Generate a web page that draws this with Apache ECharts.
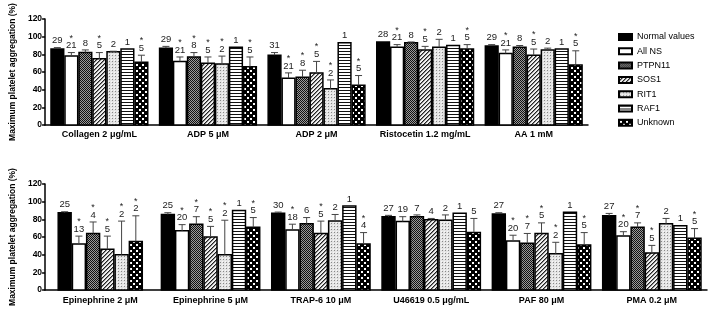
<!DOCTYPE html>
<html>
<head>
<meta charset="utf-8">
<script src="https://cdn.jsdelivr.net/npm/echarts@6/dist/echarts.min.js"></script>
<style>
html,body{margin:0;padding:0;background:#fff;}
#chart{width:709px;height:309px;}
</style>
</head>
<body>
<div id="chart"></div>
<script>
// ---------- DATA ----------
const topCategories = ['Collagen 2 \u03bcg/mL', 'ADP 5 \u03bcM', 'ADP 2 \u03bcM', 'Ristocetin 1.2 mg/mL', 'AA 1 mM'];
const bottomCategories = ['Epinephrine 2 \u03bcM', 'Epinephrine 5 \u03bcM', 'TRAP-6 10 \u03bcM', 'U46619 0.5 \u03bcg/mL', 'PAF 80 \u03bcM', 'PMA 0.2 \u03bcM'];
const groupNames = ['Normal values', 'All NS', 'PTPN11', 'SOS1', 'RIT1', 'RAF1', 'Unknown'];
const yAxisName = 'Maximum platelet aggregation (%)';

// rows = groups (Normal values, All NS, PTPN11, SOS1, RIT1, RAF1, Unknown); columns = categories
const topMeans = [
  [86, 87, 79, 94, 89.5],
  [78, 72, 53, 88, 81],
  [82, 77, 54, 93, 88],
  [75, 70, 59, 85, 79],
  [83, 69, 41, 88, 85],
  [86, 88, 93, 90, 86],
  [71, 66, 45, 86, 68]
];
const topSD = [
  [1.6, 2, 3, 0.5, 1.5],
  [4, 5, 6, 3, 4],
  [3, 5, 8, 1, 2],
  [7, 7, 13, 4, 7],
  [0.5, 9, 10, 9, 2],
  [null, null, null, null, null],
  [8, 11, 11, 5, 16]
];
const topN = [
  [29, 29, 31, 28, 29],
  [21, 21, 21, 21, 21],
  [8, 8, 8, 8, 8],
  [5, 5, 5, 5, 5],
  [2, 2, 2, 2, 2],
  [1, 1, 1, 1, 1],
  [5, 5, 5, 5, 5]
];
const topStar = [
  [0, 0, 0, 0, 0],
  [1, 1, 1, 1, 1],
  [0, 1, 1, 0, 0],
  [1, 1, 1, 1, 1],
  [0, 1, 1, 0, 0],
  [0, 0, 0, 0, 0],
  [1, 1, 1, 1, 1]
];

const bottomMeans = [
  [87.5, 85.5, 87, 83, 86, 84],
  [52, 67, 68, 77.6, 55.5, 61],
  [64, 74.5, 75, 83, 53, 71],
  [46, 60, 64, 79.5, 64, 42],
  [40, 40, 78, 79, 41, 75],
  [null, 90, 95, 87, 88, 72.6],
  [55, 71, 52, 65, 51, 58.5]
];
const bottomSD = [
  [1.1, 2, 1.2, 1.5, 1.5, 2.7],
  [9, 7, 6.5, 5.4, 6.5, 5],
  [13, 8.5, 7, 2, 11, 5],
  [15, 12, 14, 1.5, 12, 8.5],
  [38, 39, 7.5, 6, 13, 6],
  [null, null, null, null, null, null],
  [29, 11, 13, 16, 14, 11]
];
const bottomN = [
  [25, 25, 30, 27, 27, 27],
  [13, 20, 18, 19, 20, 20],
  [4, 7, 6, 7, 7, 7],
  [5, 5, 5, 4, 5, 5],
  [2, 2, 2, 2, 2, 2],
  [null, 1, 1, 1, 1, 1],
  [2, 5, 4, 5, 5, 5]
];
const bottomStar = [
  [0, 0, 0, 0, 0, 0],
  [1, 1, 1, 0, 1, 1],
  [1, 1, 0, 0, 1, 1],
  [1, 1, 1, 0, 1, 1],
  [1, 1, 0, 0, 1, 0],
  [0, 0, 0, 0, 0, 0],
  [1, 1, 1, 0, 1, 1]
];

// ---------- STYLE ----------
const FONT = 'Arial, "Liberation Sans", sans-serif';

function makePattern(size, draw) {
  const c = document.createElement('canvas');
  c.width = size; c.height = size;
  const ctx = c.getContext('2d');
  draw(ctx);
  return { image: c, repeat: 'repeat' };
}
const fills = [
  '#000000',
  '#ffffff',
  makePattern(2, ctx => { ctx.fillStyle = '#9a9a9a'; ctx.fillRect(0,0,2,2); ctx.fillStyle = '#111'; ctx.fillRect(0,0,1,1); ctx.fillRect(1,1,1,1); }),
  makePattern(4, ctx => { ctx.fillStyle = '#f0f0f0'; ctx.fillRect(0,0,4,4); ctx.fillStyle = '#222'; for (let i=0;i<4;i++) ctx.fillRect(i,3-i,1,1); ctx.fillStyle='#888'; for (let i=0;i<4;i++) ctx.fillRect((i+1)%4,3-i,1,1); }),
  makePattern(3, ctx => { ctx.fillStyle = '#e4e4e4'; ctx.fillRect(0,0,3,3); ctx.fillStyle = '#888'; ctx.fillRect(1,1,1,1); ctx.fillStyle = '#f8f8f8'; ctx.fillRect(0,0,1,1); }),
  makePattern(3, ctx => { ctx.fillStyle = '#ffffff'; ctx.fillRect(0,0,3,3); ctx.fillStyle = '#111'; ctx.fillRect(0,0,3,1); }),
  makePattern(6, ctx => { ctx.fillStyle = '#000'; ctx.fillRect(0,0,6,6); ctx.fillStyle = '#fff'; ctx.fillRect(1,1,2,2); ctx.fillRect(4,4,2,2); })
];

const panels = [
  { cats: topCategories, means: topMeans, sd: topSD, n: topN, star: topStar },
  { cats: bottomCategories, means: bottomMeans, sd: bottomSD, n: bottomN, star: bottomStar }
];

// which groups are present per category (bars packed & centered)
panels.forEach(p => {
  p.present = p.cats.map((_, c) => groupNames.map((_, g) => g).filter(g => p.means[g][c] != null));
});

function makeRender(pi, g) {
  return function (params, api) {
    const c = api.value(0), mean = api.value(1), sd = api.value(2), n = api.value(3), star = api.value(4);
    const band = api.size([1, 0])[0];
    const w = band * 0.117, gap = band * 0.012;
    const pres = panels[pi].present[c];
    const k = pres.length, slot = pres.indexOf(g);
    const total = k * w + (k - 1) * gap;
    const base = api.coord([c, 0]);
    const x0 = base[0] - total / 2 + slot * (w + gap);
    const yTop = api.coord([c, mean])[1];
    const cx = x0 + w / 2;
    const children = [{
      type: 'rect',
      shape: { x: x0, y: yTop, width: w, height: base[1] - yTop },
      style: { fill: fills[g], stroke: '#000', lineWidth: 1.5 }
    }];
    let yLab = yTop;
    if (sd > 0) {
      const yErr = api.coord([c, mean + sd])[1];
      children.push({ type: 'line', shape: { x1: cx, y1: yTop, x2: cx, y2: yErr }, style: { stroke: '#444', lineWidth: 1 } });
      children.push({ type: 'line', shape: { x1: cx - 3.5, y1: yErr, x2: cx + 3.5, y2: yErr }, style: { stroke: '#444', lineWidth: 1 } });
      yLab = yErr;
    }
    children.push({ type: 'text', style: { text: String(n), x: cx, y: yLab - 2, align: 'center', verticalAlign: 'bottom', fontSize: 9.5, fontFamily: FONT, fill: '#222' } });
    if (star) {
      children.push({ type: 'text', style: { text: '*', x: cx, y: yLab - 10, align: 'center', verticalAlign: 'bottom', fontSize: 9, fontFamily: FONT, fill: '#222' } });
    }
    return { type: 'group', children: children };
  };
}

const series = [];
panels.forEach((p, pi) => {
  groupNames.forEach((name, g) => {
    const data = [];
    p.cats.forEach((_, c) => {
      if (p.means[g][c] == null) return;
      data.push([c, p.means[g][c], p.sd[g][c] == null ? 0 : p.sd[g][c], p.n[g][c], p.star[g][c]]);
    });
    series.push({
      type: 'custom',
      name: name,
      xAxisIndex: pi,
      yAxisIndex: pi,
      clip: false,
      encode: { x: 0, y: 1 },
      itemStyle: { color: fills[g], borderColor: '#000', borderWidth: 1 },
      renderItem: makeRender(pi, g),
      data: data
    });
  });
});

function xAxis(pi) {
  return {
    type: 'category', gridIndex: pi, data: panels[pi].cats,
    axisLine: { lineStyle: { color: '#000', width: 1.5 } },
    axisTick: { show: false },
    axisLabel: { interval: 0, fontWeight: 'bold', fontSize: 9, color: '#000', fontFamily: FONT, margin: pi === 0 ? 5 : 6 }
  };
}
function yAxis(pi) {
  return {
    type: 'value', gridIndex: pi, min: 0, max: 120, interval: 20,
    axisLine: { show: true, lineStyle: { color: '#000', width: 1.5 } },
    axisTick: { show: true, length: 3, lineStyle: { color: '#000', width: 1.5 } },
    axisLabel: { fontWeight: 'bold', fontSize: 8.5, color: '#000', fontFamily: FONT, margin: 3 },
    splitLine: { show: false },
    name: yAxisName, nameLocation: 'middle', nameGap: 17,
    nameTextStyle: { fontWeight: 'bold', fontSize: 8.5, color: '#000', fontFamily: FONT }
  };
}

const chart = echarts.init(document.getElementById('chart'), null, { renderer: 'canvas' });
chart.setOption({
  animation: false,
  backgroundColor: '#fff',
  grid: [
    { left: 27, right: 121, top: 19, height: 106 },
    { left: 30, right: 2, top: 184, height: 106 }
  ],
  xAxis: [xAxis(0), xAxis(1)],
  yAxis: [yAxis(0), yAxis(1)],
  legend: {
    orient: 'vertical', left: 613, top: 27,
    itemWidth: 13, itemHeight: 6, itemGap: 4.3, icon: 'rect',
    data: groupNames,
    textStyle: { fontSize: 9, color: '#000', fontFamily: FONT, lineHeight: 10 }
  },
  series: series
});
</script>
</body>
</html>
